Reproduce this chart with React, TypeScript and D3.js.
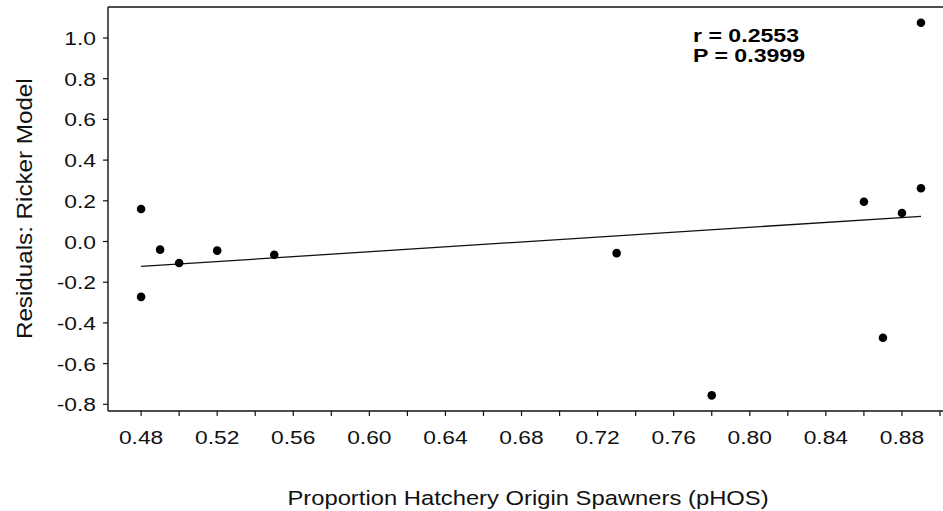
import React from "react";
import * as d3 from "d3";

// Data: proportion of hatchery-origin spawners vs Ricker model residuals
const pHOS = [0.48, 0.48, 0.49, 0.50, 0.52, 0.55, 0.73, 0.78, 0.86, 0.87, 0.88, 0.89, 0.89];
const residuals = [0.16, -0.272, -0.04, -0.106, -0.045, -0.065, -0.057, -0.756, 0.195, -0.473, 0.14, 0.262, 1.075];

const xMajorTicks = [0.48, 0.52, 0.56, 0.60, 0.64, 0.68, 0.72, 0.76, 0.80, 0.84, 0.88];
const xMinorTicks = [0.50, 0.54, 0.58, 0.62, 0.66, 0.70, 0.74, 0.78, 0.82, 0.86, 0.90];
const yTicks = [-0.8, -0.6, -0.4, -0.2, 0.0, 0.2, 0.4, 0.6, 0.8, 1.0];

const statLines = ["r = 0.2553", "P = 0.3999"];
const xTitle = "Proportion Hatchery Origin Spawners (pHOS)";
const yTitle = "Residuals: Ricker Model";

const W = 943;
const H = 511;
const left = 108;
const top = 7;
const bottom = 411;
const FONT = '"Liberation Sans", Arial, Helvetica, sans-serif';
const INK = "#111";

export default function App() {
  const x = d3.scaleLinear().domain([0.4626, 0.9]).range([left, 940]);
  const y = d3.scaleLinear().domain([-0.8, 1.0]).range([404.3, 38]);

  // least-squares fit
  const mx = d3.mean(pHOS) as number;
  const my = d3.mean(residuals) as number;
  let sxy = 0;
  let sxx = 0;
  pHOS.forEach((v, i) => {
    sxy += (v - mx) * (residuals[i] - my);
    sxx += (v - mx) * (v - mx);
  });
  const slope = sxy / sxx;
  const icpt = my - slope * mx;
  const [x0, x1] = d3.extent(pHOS) as [number, number];
  const fitLine = d3.line<number>().x((d) => x(d)).y((d) => y(icpt + slope * d));

  const tickLen = 5;

  return (
    <svg
      width={W}
      height={H}
      style={{ position: "absolute", left: 0, top: 0, background: "#fff" }}
      fontFamily={FONT}
    >
      <rect x={0} y={0} width={W} height={H} fill="#fff" />
      {/* frame */}
      <line x1={left} x2={W} y1={top} y2={top} stroke={INK} strokeWidth={1.6} />
      <line x1={left} x2={left} y1={top} y2={bottom} stroke={INK} strokeWidth={1.4} />
      <line x1={left} x2={W} y1={bottom} y2={bottom} stroke={INK} strokeWidth={1.4} />

      {/* y ticks */}
      {yTicks.map((t) => (
        <g key={"y" + t}>
          <line x1={left - tickLen} x2={left} y1={y(t)} y2={y(t)} stroke={INK} strokeWidth={1.2} />
          <text
            transform={`translate(${96},${y(t) + 7}) scale(1.2,1)`}
            textAnchor="end"
            fontSize={19}
            fill={INK}
          >
            {t.toFixed(1)}
          </text>
        </g>
      ))}

      {/* x ticks */}
      {xMajorTicks.map((t) => (
        <g key={"x" + t}>
          <line x1={x(t)} x2={x(t)} y1={bottom} y2={bottom + tickLen} stroke={INK} strokeWidth={1.2} />
          <text
            transform={`translate(${x(t)},${443.5}) scale(1.2,1)`}
            textAnchor="middle"
            fontSize={19}
            fill={INK}
          >
            {t.toFixed(2)}
          </text>
        </g>
      ))}
      {xMinorTicks.map((t) => (
        <line key={"m" + t} x1={x(t)} x2={x(t)} y1={bottom} y2={bottom + tickLen} stroke={INK} strokeWidth={1.2} />
      ))}

      {/* regression line */}
      <path d={fitLine([x0, x1]) as string} fill="none" stroke={INK} strokeWidth={1.3} />

      {/* points */}
      {pHOS.map((v, i) => (
        <circle key={"p" + i} cx={x(v)} cy={y(residuals[i])} r={4.3} fill="#000" />
      ))}

      {/* stats annotation */}
      {statLines.map((s, i) => (
        <text
          key={"s" + i}
          transform={`translate(${693},${42.3 + i * 19.4}) scale(1.25,1)`}
          fontSize={18.5}
          fontWeight="bold"
          fill="#000"
        >
          {s}
        </text>
      ))}

      {/* axis titles */}
      <text
        transform={`translate(${528},${505}) scale(1.22,1)`}
        textAnchor="middle"
        fontSize={19.5}
        fill={INK}
      >
        {xTitle}
      </text>
      <text
        transform={`translate(${32},${208.7}) rotate(-90) scale(1.1,1)`}
        textAnchor="middle"
        fontSize={22}
        fill={INK}
      >
        {yTitle}
      </text>
    </svg>
  );
}
